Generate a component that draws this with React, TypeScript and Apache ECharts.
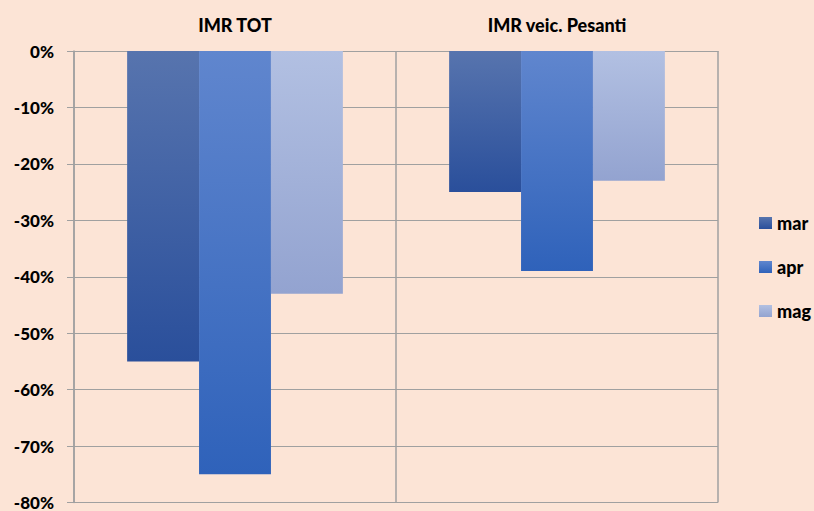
import React, { useEffect, useRef } from "react";
import * as echarts from "echarts";

const categories = ["IMR TOT", "IMR veic. Pesanti"];
const seriesNames = ["mar", "apr", "mag"];
const marValues = [-55, -25];
const aprValues = [-75, -39];
const magValues = [-43, -23];
const yTicks = { min: -80, max: 0, interval: 10 };

const gradients = [
  ["#5774AE", "#2A4F9B"],
  ["#6086CE", "#2F62BA"],
  ["#B2C0E2", "#93A3D0"],
];

export default function App() {
  const ref = useRef<HTMLDivElement>(null);
  useEffect(() => {
    if (!ref.current) return;
    const chart = echarts.init(ref.current, undefined, { renderer: "svg" });
    const values = [marValues, aprValues, magValues];
    const font = "Lato, 'Liberation Sans', sans-serif";
    const weight = 900;
    chart.setOption({
      animation: false,
      backgroundColor: "#FCE4D6",
      grid: { left: 74, top: 51, right: 96, bottom: 7.5, containLabel: false },
      legend: {
        orient: "vertical",
        left: 759,
        top: 214,
        padding: 0,
        itemWidth: 13,
        itemHeight: 12,
        itemGap: 26,
        itemTextGap: 5,
        icon: "rect",
        textStyle: { fontFamily: font, fontWeight: weight, fontSize: 18, color: "#000", lineHeight: 16 },
        data: seriesNames,
      },
      xAxis: {
        type: "category",
        position: "top",
        data: categories,
        axisLine: { show: true, lineStyle: { color: "#A0A0A0", width: 1 } },
        axisTick: { show: false },
        splitLine: { show: true, lineStyle: { color: "#A0A0A0", width: 1.5 } },
        axisLabel: { fontFamily: font, fontWeight: weight, fontSize: 18, color: "#000", margin: 17 },
      },
      yAxis: {
        type: "value",
        min: yTicks.min,
        max: yTicks.max,
        interval: yTicks.interval,
        axisLine: { show: true, lineStyle: { color: "#A0A0A0", width: 1.5 } },
        axisTick: { show: true, length: 7, lineStyle: { color: "#A0A0A0" } },
        splitLine: { show: true, lineStyle: { color: "#A0A0A0", width: 1 } },
        axisLabel: {
          fontFamily: font,
          fontWeight: weight,
          fontSize: 17,
          color: "#000",
          margin: 20,
          formatter: (v: number) => `${v}%`,
        },
      },
      series: seriesNames.map((name, i) => ({
        name,
        type: "bar",
        data: values[i],
        barGap: "0%",
        barCategoryGap: "33%",
        itemStyle: {
          color: new echarts.graphic.LinearGradient(0, 0, 0, 1, [
            { offset: 0, color: gradients[i][0] },
            { offset: 1, color: gradients[i][1] },
          ]),
        },
      })),
    });
    return () => chart.dispose();
  }, []);
  return <div ref={ref} style={{ position: "absolute", left: 0, top: 0, width: 814, height: 511 }} />;
}
